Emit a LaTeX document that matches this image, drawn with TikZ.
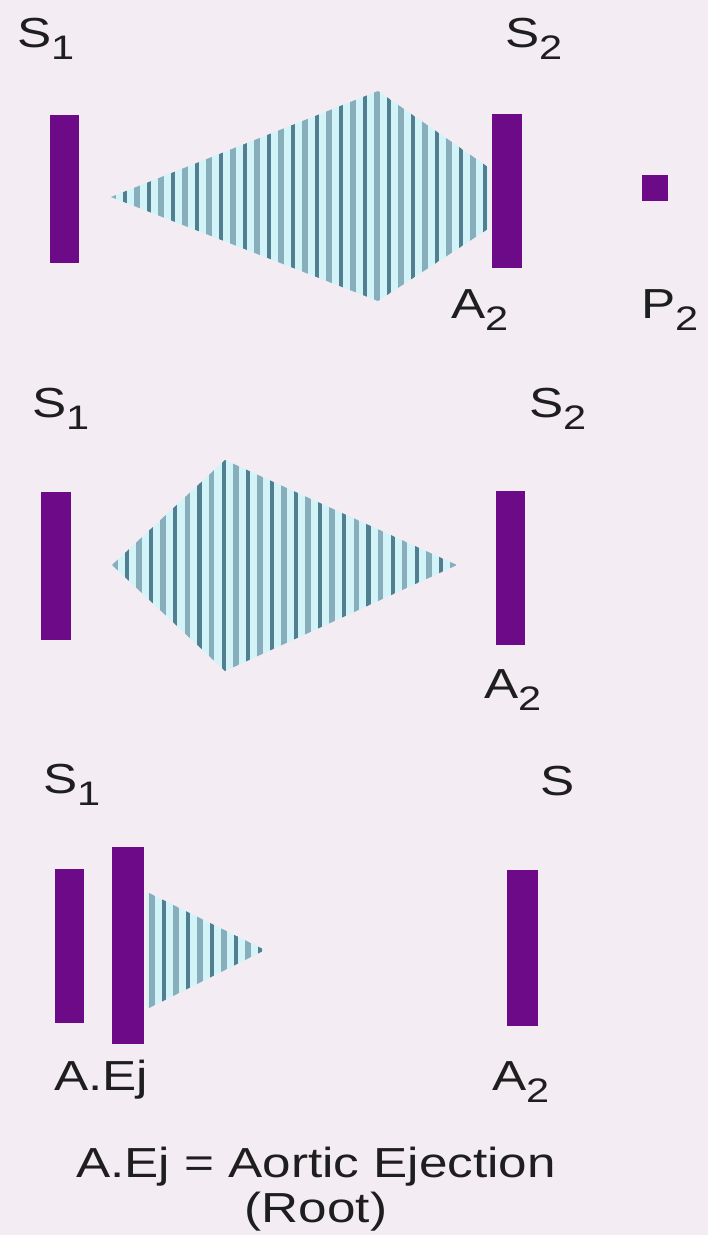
\documentclass[tikz,border=0pt]{standalone}
\usepackage{fontspec}
\setmainfont{Liberation Sans}[FakeStretch=1.22]
\definecolor{bgc}{HTML}{F3ECF3}
\definecolor{barc}{HTML}{6C0A88}
\definecolor{cyanfill}{HTML}{D2F4F8}
\definecolor{stripeA}{HTML}{88AEBC}
\definecolor{stripeB}{HTML}{527F90}
\definecolor{txt}{HTML}{1E1E1E}
\newcommand\subs[1]{\raisebox{-12pt}{\fontsize{34}{34}\selectfont #1}}
\tikzset{
  bar/.style={fill=barc, draw=none, inner sep=0pt, outer sep=0pt},
  lab/.style={anchor=base west, inner sep=0pt, outer sep=0pt, text=txt, font=\fontsize{42}{46}\selectfont},
  captext/.style={anchor=base, inner sep=0pt, outer sep=0pt, text=txt, font=\fontsize{42}{46}\selectfont},
  stripeone/.style={draw=stripeA, line width=5.6pt},
  stripetwo/.style={draw=stripeB, line width=4.2pt}
}
\begin{document}
\begin{tikzpicture}[x=1pt,y=-1pt]
\useasboundingbox (0,0) rectangle (708,1235);
\fill[bgc] (0,0) rectangle (708,1235);

% ---------------- Panel 1 ----------------
\begin{scope}
\clip (111,197) -- (378,91) -- (488,167) -- (488,229) -- (378,301) -- cycle;
\fill[cyanfill] (100,80) rectangle (500,310);
\foreach \i in {0,2,...,30} { \draw[stripeone] (113+12*\i,80) -- (113+12*\i,310); }
\foreach \i in {1,3,...,31} { \draw[stripetwo] (113+12*\i,80) -- (113+12*\i,310); }
\end{scope}
\node[bar, minimum width=29pt, minimum height=148pt] (p1s1) at (64.5,189) {};
\node[bar, minimum width=30pt, minimum height=154pt] (p1s2) at (507,191) {};
\node[bar, minimum width=26pt, minimum height=26pt] (p1p2) at (655,187.5) {};
\node[lab] (l1s1) at (17,47) {S\subs{1}};
\node[lab] (l1s2) at (505,47) {S\subs{2}};
\node[lab] (l1a2) at (451,318) {A\subs{2}};
\node[lab] (l1p2) at (641,318) {P\subs{2}};

% ---------------- Panel 2 ----------------
\begin{scope}
\clip (112,565) -- (225,460) -- (457,565) -- (225,671) -- cycle;
\fill[cyanfill] (100,450) rectangle (470,680);
\foreach \i in {0,2,...,28} { \draw[stripeone] (115+12.07*\i,450) -- (115+12.07*\i,680); }
\foreach \i in {1,3,...,27} { \draw[stripetwo] (115+12.07*\i,450) -- (115+12.07*\i,680); }
\end{scope}
\node[bar, minimum width=30pt, minimum height=148pt] (p2s1) at (56,566) {};
\node[bar, minimum width=29pt, minimum height=154pt] (p2s2) at (510.5,568) {};
\node[lab] (l2s1) at (32,417) {S\subs{1}};
\node[lab] (l2s2) at (529,417) {S\subs{2}};
\node[lab] (l2a2) at (484,698) {A\subs{2}};

% ---------------- Panel 3 ----------------
\begin{scope}
\clip (147,892) -- (265,950) -- (147,1009) -- cycle;
\fill[cyanfill] (140,880) rectangle (280,1020);
\foreach \i in {0,2,...,8} { \draw[stripeone] (152+12*\i,880) -- (152+12*\i,1020); }
\foreach \i in {1,3,...,9} { \draw[stripetwo] (152+12*\i,880) -- (152+12*\i,1020); }
\end{scope}
\node[bar, minimum width=29pt, minimum height=154pt] (p3s1) at (69.5,946) {};
\node[bar, minimum width=32pt, minimum height=197pt] (p3aej) at (128,945.5) {};
\node[bar, minimum width=31pt, minimum height=156pt] (p3s2) at (522.5,948) {};
\node[lab] (l3s1) at (43,793) {S\subs{1}};
\node[lab] (l3s) at (540,795) {S};
\node[lab] (l3aej) at (54,1090) {A.Ej};
\node[lab] (l3a2) at (492,1090) {A\subs{2}};
\node[captext] (cap1) at (316,1177) {A.Ej = Aortic Ejection};
\node[captext] (cap2) at (316,1222) {(Root)};
\end{tikzpicture}
\end{document}
